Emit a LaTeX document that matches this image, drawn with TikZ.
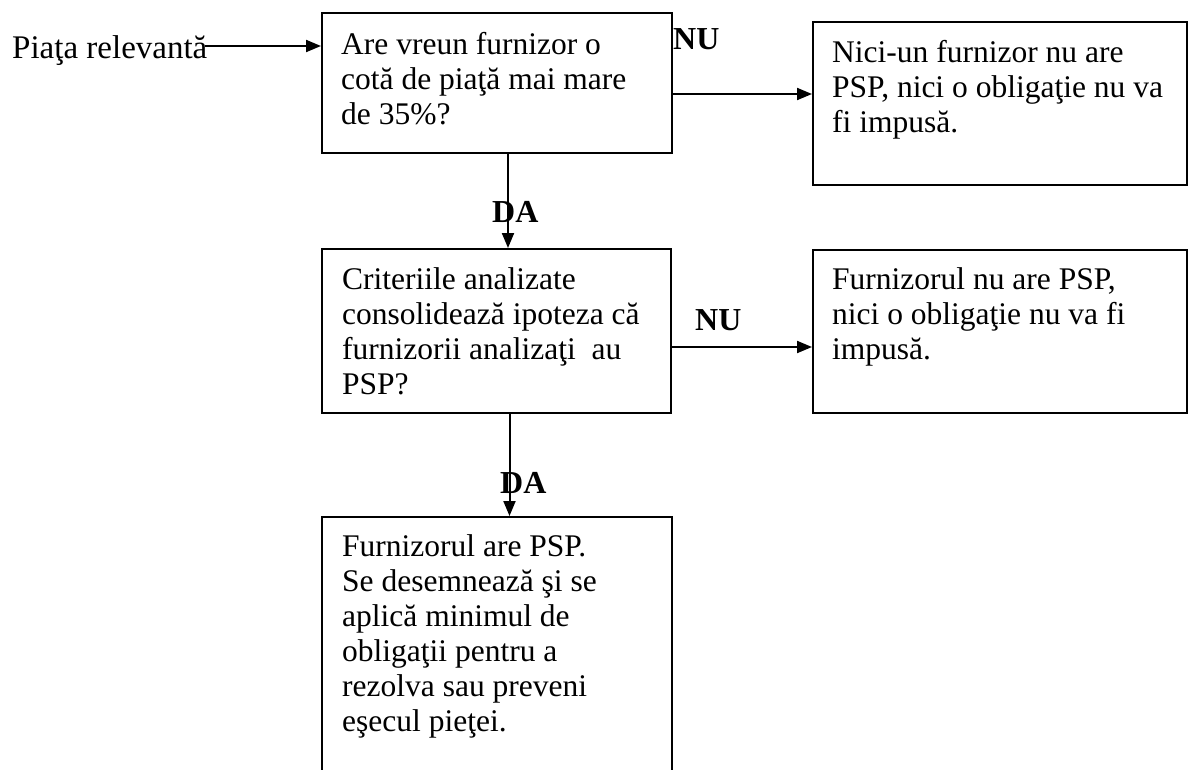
\documentclass[tikz,border=0pt]{standalone}
\usepackage{fontspec}
\setmainfont{Liberation Serif}
\usetikzlibrary{arrows.meta,calc}
\tikzset{
  box/.style={draw, line width=2pt, inner sep=0pt, anchor=north west},
  txt/.style={inner sep=0pt, anchor=base west, font=\fontsize{31.5}{35}\selectfont},
  lbl/.style={inner sep=0pt, anchor=base west, font=\fontsize{32}{36}\selectfont\bfseries},
  arr/.style={line width=2pt, -{Triangle[length=15pt,width=12pt]}}
}
\newcommand\lines[1]{\begin{tabular}[t]{@{}l@{}}#1\end{tabular}}
\begin{document}
\begin{tikzpicture}[x=1pt,y=-1pt]
\useasboundingbox (0,0) rectangle (1189,769);
\clip (0,0) rectangle (1189,769);
% boxes
\node[box, minimum width=350pt, minimum height=140pt] (b1) at (321,12) {};
\node[box, minimum width=374pt, minimum height=163pt] (b2) at (812,21) {};
\node[box, minimum width=349pt, minimum height=164pt] (b3) at (321,248) {};
\node[box, minimum width=374pt, minimum height=163pt] (b4) at (812,249) {};
\node[box, minimum width=350pt, minimum height=300pt] (b5) at (321,516) {};
% texts
\node[txt, font=\fontsize{33}{37}\selectfont] (piata) at (12,58) {Piaţa relevantă};
\node[txt] (t1) at (341,54) {\lines{Are vreun furnizor o\\cotă de piaţă mai mare\\de 35\%?}};
\node[txt] (t2) at (832,62) {\lines{Nici-un furnizor nu are\\PSP, nici o obligaţie nu va\\fi impusă.}};
\node[txt] (t3) at (342,289) {\lines{Criteriile analizate\\consolidează ipoteza că\\furnizorii analizaţi\ \ au\\PSP?}};
\node[txt] (t4) at (832,289) {\lines{Furnizorul nu are PSP,\\nici o obligaţie nu va fi\\impusă.}};
\node[txt] (t5) at (342,556) {\lines{Furnizorul are PSP.\\Se desemnează şi se\\aplică minimul de\\obligaţii pentru a\\rezolva sau preveni\\eşecul pieţei.}};
% labels
\node[lbl] (nu1) at (673,49) {NU};
\node[lbl] (nu2) at (695,330) {NU};
\node[lbl] (da1) at (492,222) {DA};
\node[lbl] (da2) at (500,493) {DA};
% connectors
\coordinate (pa) at ([yshift=12pt]piata.base east);
\draw[arr] ([xshift=-3pt]pa) -- (pa -| b1.west);
\draw[arr] ([yshift=-11pt]b1.east) -- ([yshift=-11pt]b1.east -| b2.west);
\draw[arr] ([yshift=-16pt]b3.east) -- ([yshift=-16pt]b3.east -| b4.west);
\draw[arr] ([xshift=11pt]b1.south) -- ([xshift=11pt]b1.south |- b3.north);
\draw[arr] ([xshift=13pt]b3.south) -- ([xshift=13pt]b3.south |- b5.north);
\end{tikzpicture}
\end{document}
